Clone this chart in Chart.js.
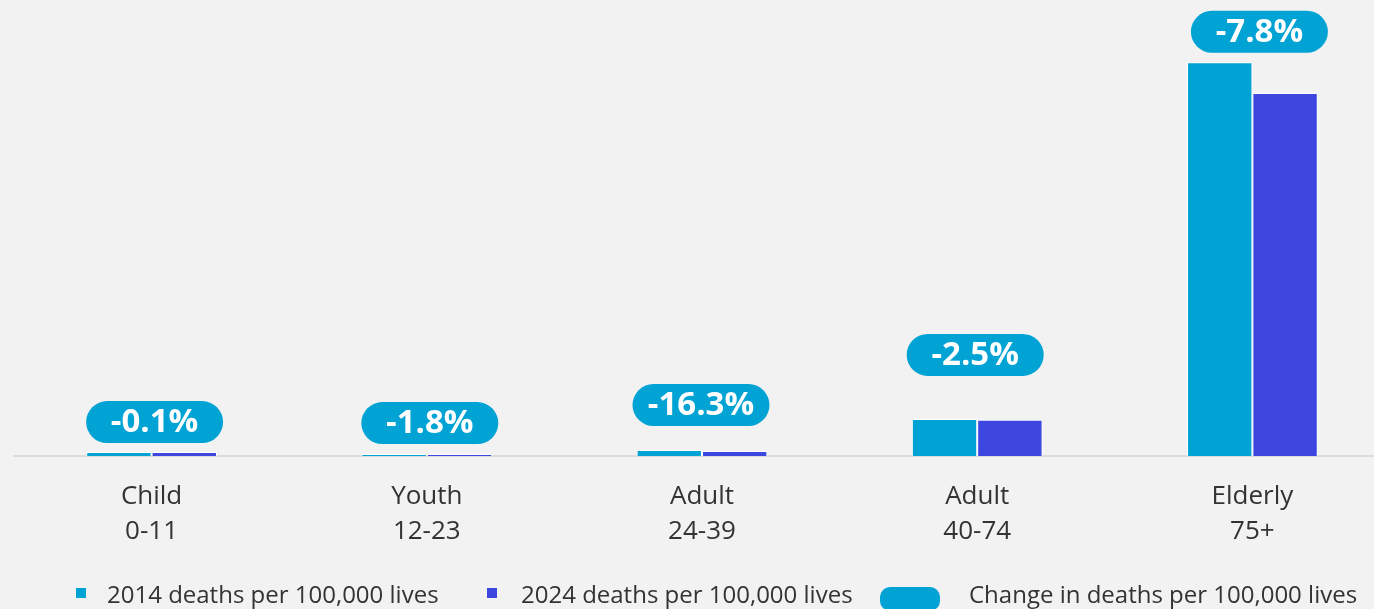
<!DOCTYPE html>
<html>
<head>
<meta charset="utf-8">
<script src="https://cdn.jsdelivr.net/npm/chart.js@4"></script>
<style>
  html, body { margin: 0; padding: 0; background: #f2f2f2; overflow: hidden; }
  #wrap { position: relative; width: 1390px; height: 609px; }
  .lg { position: absolute; font: 24px "Open Sans", sans-serif; color: #333; white-space: nowrap; line-height: 1; }
  .sq { position: absolute; width: 10px; height: 10px; }
  .pill { position: absolute; width: 60px; height: 24px; border-radius: 10px; background: #00a3d4; }
</style>
</head>
<body>
<div id="wrap">
  <canvas id="chart"></canvas>
  <div class="sq" style="left:76px; top:588px; background:#00a3d4"></div>
  <div class="lg" style="left:107px; top:582px">2014 deaths per 100,000 lives</div>
  <div class="sq" style="left:487px; top:588px; background:#3d47df"></div>
  <div class="lg" style="left:521px; top:582px">2024 deaths per 100,000 lives</div>
  <div class="pill" style="left:880px; top:587px"></div>
  <div class="lg" style="left:969px; top:582px">Change in deaths per 100,000 lives</div>
</div>
<script>
// age groups and deaths per 100,000 lives
const categories = [['Child', '0-11'], ['Youth', '12-23'], ['Adult', '24-39'], ['Adult', '40-74'], ['Elderly', '75+']];
const deaths2014 = [70, 35, 107, 660, 7000];
const deaths2024 = [69.9, 34.4, 89.6, 643.5, 6454];
const changeLabels = ['-0.1%', '-1.8%', '-16.3%', '-2.5%', '-7.8%'];

const CYAN = '#00a3d4';
const BLUE = '#3d47df';

// rounded badge above each bar pair
const changeBadges = {
    id: 'changeBadges',
    afterDatasetsDraw(chart, args, opts) {
        const ctx = chart.ctx;
        const a = chart.getDatasetMeta(0).data;
        const b = chart.getDatasetMeta(1).data;
        ctx.save();
        changeLabels.forEach((txt, i) => {
            const cx = (a[i].x + b[i].x) / 2 + opts.shift[i];
            const top = Math.min(a[i].y, b[i].y);
            const h = 42, w = 137;
            const y0 = top - opts.gaps[i] - h;
            ctx.fillStyle = CYAN;
            ctx.beginPath();
            ctx.roundRect(cx - w / 2, y0, w, h, h / 2);
            ctx.fill();
            ctx.fillStyle = '#fff';
            ctx.font = 'bold 33px "Open Sans"';
            ctx.textAlign = 'center';
            ctx.textBaseline = 'middle';
            ctx.fillText(txt, cx, y0 + h / 2 + 1);
        });
        ctx.restore();
    }
};

new Chart(document.getElementById('chart'), {
    type: 'bar',
    data: {
        labels: categories,
        datasets: [
            { label: '2014 deaths per 100,000 lives', data: deaths2014, backgroundColor: CYAN },
            { label: '2024 deaths per 100,000 lives', data: deaths2024, backgroundColor: BLUE },
        ],
    },
    options: {
        responsive: true,
        maintainAspectRatio: false,
        animation: false,
        layout: { padding: { left: 14, right: 0, top: 6, bottom: 53 } },
        datasets: {
            bar: { categoryPercentage: 0.475, barPercentage: 1, borderColor: '#fff', borderWidth: 1 },
        },
        scales: {
            x: {
                grid: { display: false, drawTicks: false },
                border: { display: true, color: '#dcdcdc', width: 2 },
                ticks: { color: '#333', padding: 23, font: { family: 'Open Sans', size: 26, lineHeight: 1.35 } },
                afterFit: s => { s.height = 100; },
            },
            y: { display: false, min: 0, max: 8000 },
        },
        plugins: {
            legend: { display: false },
            tooltip: { enabled: false },
            changeBadges: { gaps: [9, 10, 24, 43, 9.5], shift: [3, 3, -1, -2, 7] },
        },
    },
    plugins: [changeBadges],
});
</script>
</body>
</html>
